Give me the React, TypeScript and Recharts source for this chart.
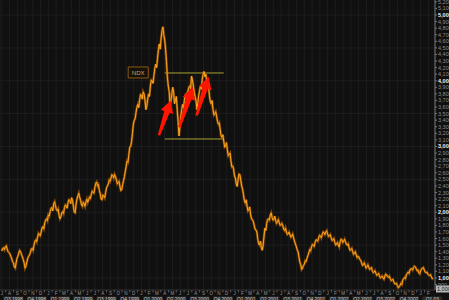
import React from 'react';
import {
  LineChart, Line, XAxis, YAxis, CartesianGrid, ReferenceLine, ReferenceArea,
} from 'recharts';

// weekly NDX closes, first week of Jul 1998 -> late Feb 2003
const weeklyClose: number[] = [
  1410, 1460, 1475, 1440, 1385, 1330, 1250, 1170, 1230, 1330,
  1420, 1360, 1280, 1150, 1240, 1330, 1390, 1450, 1500, 1580,
  1620, 1660, 1700, 1780, 1840, 1900, 1960, 2010, 2070, 2130,
  2100, 2020, 1950, 1930, 2010, 2070, 2100, 2150, 2180, 2220,
  2090, 1990, 2200, 2290, 2180, 2090, 2130, 2160, 2150, 2230,
  2270, 2300, 2380, 2460, 2420, 2280, 2190, 2250, 2300, 2400,
  2490, 2520, 2560, 2575, 2500, 2450, 2390, 2340, 2480, 2620,
  2780, 2880, 3000, 3200, 3400, 3520, 3640, 3710, 3780, 3830,
  3700, 3610, 3800, 3920, 4000, 4080, 4250, 4340, 4560, 4650,
  4820, 4620, 4290, 3920, 3620, 3800, 3820, 3700, 3560, 3160,
  3460, 3640, 3700, 3800, 3840, 3920, 4070, 3920, 3760, 3560,
  3780, 3920, 4030, 4140, 4100, 3880, 3770, 3650, 3560, 3500,
  3460, 3340, 3260, 3140, 3080, 3000, 2950, 2880, 2780, 2700,
  2550, 2430, 2500, 2570, 2400, 2270, 2140, 2100, 2040, 1960,
  1890, 1800, 1730, 1590, 1500, 1460, 1500, 1760, 1830, 1900,
  1960, 1920, 1890, 1870, 1855, 1840, 1810, 1790, 1720, 1700,
  1670, 1660, 1640, 1610, 1520, 1430, 1320, 1200, 1150, 1210,
  1250, 1340, 1430, 1470, 1500, 1540, 1580, 1610, 1640, 1660,
  1690, 1700, 1670, 1640, 1610, 1580, 1540, 1510, 1500, 1550,
  1580, 1560, 1550, 1500, 1460, 1430, 1400, 1380, 1350, 1330,
  1280, 1230, 1200, 1190, 1170, 1160, 1150, 1110, 1090, 1070,
  1050, 1030, 1010, 1000, 1030, 1046, 1010, 990, 970, 940,
  910, 880, 865, 920, 970, 1010, 1046, 1090, 1120, 1140,
  1160, 1170, 1110, 1076, 1110, 1150, 1120, 1080, 1060, 1040,
  1015, 1000,
];

// mid-week prints between each weekly close and the next
const midWeek: number[] = [
  1450, 1430, 1490, 1400, 1370, 1300, 1230, 1150, 1300, 1380,
  1400, 1320, 1230, 1180, 1300, 1350, 1440, 1420, 1560, 1550,
  1680, 1640, 1760, 1750, 1880, 1870, 1940, 2060, 2020, 2160,
  2040, 2050, 1900, 1990, 1980, 2110, 2060, 2190, 2130, 2180,
  2000, 2120, 2250, 2230, 2120, 2150, 2090, 2200, 2190, 2210,
  2320, 2290, 2440, 2400, 2330, 2200, 2260, 2220, 2370, 2430,
  2470, 2570, 2520, 2540, 2430, 2470, 2330, 2420, 2540, 2700,
  2760, 2990, 3080, 3340, 3420, 3600, 3590, 3790, 3720, 3800,
  3560, 3720, 3760, 4010, 3960, 4190, 4200, 4470, 4480, 4760,
  4700, 4480, 4050, 3840, 3700, 3900, 3650, 3760, 3380, 3300,
  3560, 3580, 3780, 3720, 3900, 3880, 4010, 3820, 3700, 3660,
  3850, 3870, 4100, 4060, 3990, 3920, 3680, 3700, 3480, 3530,
  3380, 3360, 3160, 3180, 2990, 3060, 2860, 2900, 2690, 2660,
  2520, 2390, 2580, 2490, 2350, 2180, 2190, 2020, 2080, 1900,
  1860, 1740, 1700, 1520, 1560, 1420, 1640, 1720, 1890, 1880,
  1990, 1880, 1940, 1830, 1890, 1800, 1830, 1740, 1760, 1660,
  1700, 1620, 1670, 1560, 1480, 1400, 1240, 1130, 1190, 1260,
  1300, 1380, 1410, 1510, 1480, 1580, 1560, 1650, 1610, 1700,
  1660, 1720, 1630, 1660, 1570, 1600, 1500, 1540, 1470, 1590,
  1540, 1590, 1510, 1520, 1420, 1450, 1360, 1400, 1310, 1320,
  1270, 1190, 1230, 1150, 1200, 1130, 1160, 1080, 1110, 1040,
  1070, 1000, 1030, 980, 1060, 1020, 1030, 960, 980, 910,
  920, 850, 890, 900, 990, 990, 1070, 1070, 1140, 1120,
  1180, 1140, 1120, 1060, 1140, 1160, 1090, 1090, 1040, 1050,
  990,
];

const monthLetters = 'JASONDJFMAMJJASONDJFMAMJJASONDJFMAMJJASONDJFMAMJJASONDJF'.split('');
const quarterLabels = [
  'Q3 1998', 'Q4 1998', 'Q1 1999', 'Q2 1999', 'Q3 1999', 'Q4 1999', 'Q1 2000',
  'Q2 2000', 'Q3 2000', 'Q4 2000', 'Q1 2001', 'Q2 2001', 'Q3 2001', 'Q4 2001',
  'Q1 2002', 'Q2 2002', 'Q3 2002', 'Q4 2002', 'Q1 03',
];
const yTicks = Array.from({ length: 44 }, (_, i) => 900 + i * 100);
const gridValues = [1000, 1500, 2000, 2500, 3000, 3500, 4000, 4500, 5000];

// annotations, in week / index units
const rangeTop = 4118;
const rangeBottom = 3114;
const rangeFrom = 91;
const rangeTo = 124;
const arrows = [
  { from: [87.8, 3170], to: [94.4, 3700] },
  { from: [99.2, 3290], to: [106.6, 3900] },
  { from: [108.8, 3470], to: [115.6, 4060] },
];

const WEEKS_PER_MONTH = 52 / 12;
const data = weeklyClose.flatMap((v, i) =>
  i < midWeek.length ? [{ w: i, v }, { w: i + 0.5, v: midWeek[i] }] : [{ w: i, v }],
);
const monthTicks = monthLetters.map((_, i) => i * WEEKS_PER_MONTH);
const quarterTicks = quarterLabels.map((_, i) => (i * 3 + 1.5) * WEEKS_PER_MONTH);
const lastValue = weeklyClose[weeklyClose.length - 1];

const fmt = (n: number) => n.toLocaleString('en-US');

const MonthTick = (props: any) => {
  const { x, y, index } = props;
  return (
    <g>
      <line x1={x - 3.9} x2={x - 3.9} y1={y} y2={y + 2.5} stroke="#555" />
      <text x={x} y={y + 5} fontSize={4.5} fill="#9a9a9a" textAnchor="middle" fontFamily="Liberation Sans, Arial">
        {monthLetters[index]}
      </text>
    </g>
  );
};

const QuarterTick = (props: any) => {
  const { x, y, index } = props;
  return (
    <g>
      <rect x={x - 10} y={y + 0.5} width={20} height={6} fill="#2a2a2a" />
      <text x={x} y={y + 4.8} fontSize={4.8} fill="#cfcfcf" textAnchor="middle" fontFamily="Liberation Sans, Arial">
        {quarterLabels[index]}
      </text>
    </g>
  );
};

const PriceTick = (props: any) => {
  const { x, y, payload } = props;
  const major = payload.value % 1000 === 0;
  return (
    <text
      x={x}
      y={y + 2}
      fontSize={5.5}
      fill={major ? '#f0f0f0' : '#8c8c8c'}
      fontWeight={major ? 'bold' : 'normal'}
      fontFamily="Liberation Sans, Arial"
    >
      {fmt(payload.value)}
    </text>
  );
};

const Arrow = (props: any) => {
  const { x1, y1, x2, y2 } = props;
  const dx = x2 - x1;
  const dy = y2 - y1;
  const len = Math.hypot(dx, dy) || 1;
  const ux = dx / len;
  const uy = dy / len;
  const nx = -uy;
  const ny = ux;
  const head = 12;
  const bx = x2 - ux * head;
  const by = y2 - uy * head;
  const pts = [
    [x1 + nx * 1.2, y1 + ny * 1.2],
    [bx + nx * 2.8, by + ny * 2.8],
    [bx + nx * 6.5, by + ny * 6.5],
    [x2, y2],
    [bx - nx * 6.5, by - ny * 6.5],
    [bx - nx * 2.8, by - ny * 2.8],
    [x1 - nx * 1.2, y1 - ny * 1.2],
  ];
  return <polygon points={pts.map((p) => p.join(',')).join(' ')} fill="#ff1500" />;
};

const LastTag = (props: any) => {
  const { viewBox } = props;
  const x = viewBox.x + viewBox.width + 1;
  const y = viewBox.y + 11;
  return (
    <g>
      <rect x={x} y={y - 3.5} width={14} height={7} fill="#b9b9b9" />
      <text x={x + 1} y={y + 2} fontSize={5.5} fill="#111" fontFamily="Liberation Sans, Arial">
        {fmt(lastValue)}
      </text>
    </g>
  );
};

export default function App() {
  return (
    <div style={{ position: 'fixed', left: 0, top: 0, width: 449, height: 300, background: '#101010' }}>
      <LineChart width={449} height={300} data={data} margin={{ top: 0, right: 0, left: 0, bottom: 0 }}>
        <CartesianGrid
          xAxisId="m"
          stroke="#1d1d1d"
          strokeWidth={1}
          horizontalValues={gridValues}
          fill="#101010"
        />
        <XAxis
          xAxisId="m"
          dataKey="w"
          type="number"
          domain={[-1, 242]}
          ticks={monthTicks}
          interval={0}
          tick={<MonthTick />}
          tickLine={false}
          tickSize={0}
          tickMargin={0}
          axisLine={{ stroke: '#333' }}
          height={6}
          allowDataOverflow
        />
        <XAxis
          xAxisId="q"
          dataKey="w"
          type="number"
          domain={[-1, 242]}
          ticks={quarterTicks}
          interval={0}
          tick={<QuarterTick />}
          tickLine={false}
          tickSize={0}
          tickMargin={0}
          axisLine={false}
          height={4}
          allowDataOverflow
        />
        <YAxis
          orientation="right"
          domain={[817, 5228]}
          ticks={yTicks}
          interval={0}
          width={14}
          tick={<PriceTick />}
          tickSize={2}
          tickMargin={1}
          tickLine={{ stroke: '#777' }}
          axisLine={{ stroke: '#777' }}
          allowDataOverflow
        />
        <ReferenceArea
          xAxisId="m"
          x1={70.6}
          x2={81.8}
          y1={4042}
          y2={4209}
          fill="#151008"
          stroke="#8a5a12"
          strokeWidth={1}
          fillOpacity={1}
          label={{ value: 'NDX', fill: '#c8a46a', fontSize: 6, position: 'center', fontFamily: 'Liberation Sans, Arial' }}
        />
        <ReferenceLine
          xAxisId="m"
          segment={[{ x: rangeFrom, y: rangeTop }, { x: rangeTo, y: rangeTop }]}
          stroke="#a6a032"
          strokeWidth={1}
        />
        <ReferenceLine
          xAxisId="m"
          segment={[{ x: rangeFrom, y: rangeBottom }, { x: rangeTo, y: rangeBottom }]}
          stroke="#a6a032"
          strokeWidth={1}
        />
        <Line
          xAxisId="q"
          dataKey="v"
          stroke="#000"
          strokeOpacity={0}
          dot={false}
          activeDot={false}
          isAnimationActive={false}
          legendType="none"
        />
        <Line
          xAxisId="m"
          type="linear"
          dataKey="v"
          stroke="#b05f00"
          strokeWidth={2.4}
          strokeOpacity={0.7}
          dot={false}
          activeDot={false}
          isAnimationActive={false}
        />
        <Line
          xAxisId="m"
          type="linear"
          dataKey="v"
          stroke="#ffa51f"
          strokeWidth={1}
          dot={false}
          activeDot={false}
          isAnimationActive={false}
        />
        {arrows.map((a, i) => (
          <ReferenceLine
            key={i}
            xAxisId="m"
            segment={[{ x: a.from[0], y: a.from[1] }, { x: a.to[0], y: a.to[1] }]}
            shape={<Arrow />}
            ifOverflow="visible"
          />
        ))}
        <ReferenceLine xAxisId="m" y={lastValue} stroke="none" label={<LastTag />} />
      </LineChart>
    </div>
  );
}
